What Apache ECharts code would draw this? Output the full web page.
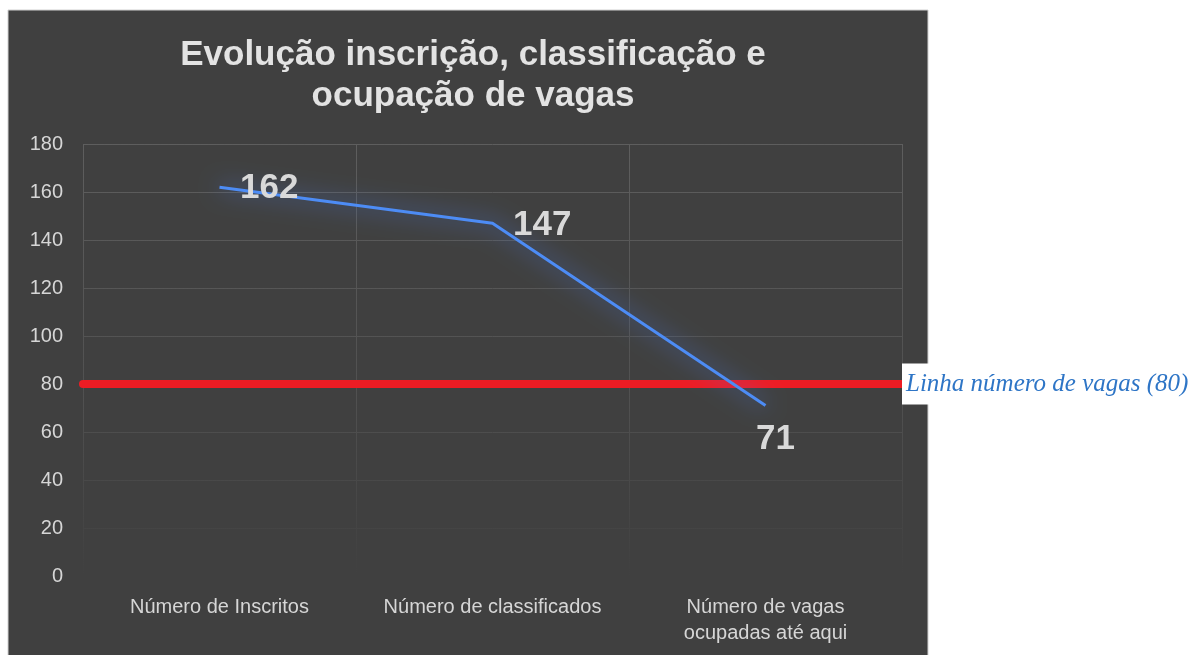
<!DOCTYPE html>
<html>
<head>
<meta charset="utf-8">
<script src="https://cdn.jsdelivr.net/npm/echarts@6/dist/echarts.min.js"></script>
<style>
  html, body { margin: 0; padding: 0; background: #fff; }
  #chart { width: 1194px; height: 655px; }
</style>
</head>
<body>
<div id="chart"></div>
<script>
// dados
const categorias = ["Número de Inscritos", "Número de classificados", "Número de vagas\nocupadas até aqui"];
const valores = [162, 147, 71];
const linhaVagas = 80;
const yTicks = [0, 20, 40, 60, 80, 100, 120, 140, 160, 180];

// posição dos rótulos por ponto
const labelPos = [
  { position: "right", distance: 20, offset: [0, 1] },
  { position: "right", distance: 20, offset: [0, 2] },
  { position: "bottom", distance: 16, offset: [10, 0] }
];

const chart = echarts.init(document.getElementById("chart"));

const gridFade = new echarts.graphic.LinearGradient(0, 144, 0, 576, [
  { offset: 0, color: "#5e5e5e" },
  { offset: 0.6, color: "#505050" },
  { offset: 1, color: "#404040" }
], true);

const option = {
  backgroundColor: "#ffffff",
  animation: false,
  graphic: [
    {
      type: "rect",
      z: -10,
      shape: { x: 8, y: 10, width: 920, height: 650 },
      style: { fill: "#404040", stroke: "#d0d0d0", lineWidth: 1 }
    }
  ],
  title: {
    text: "Evolução inscrição, classificação e\nocupação de vagas",
    left: 468,
    top: 30,
    textAlign: "center",
    textStyle: {
      color: "#e3e3e3",
      fontFamily: "Liberation Sans",
      fontWeight: "bold",
      fontSize: 35,
      lineHeight: 41
    }
  },
  grid: { left: 83, right: 292, top: 144, bottom: 79, containLabel: false },
  xAxis: {
    type: "category",
    data: categorias,
    boundaryGap: true,
    axisLine: { show: false },
    axisTick: { show: false },
    axisLabel: {
      interval: 0,
      color: "#d6d6d6",
      fontFamily: "Liberation Sans",
      fontSize: 20,
      lineHeight: 26,
      margin: 18
    },
    splitLine: { show: true, interval: 0, lineStyle: { color: gridFade, width: 1 } }
  },
  yAxis: {
    type: "value",
    min: 0,
    max: 180,
    interval: 20,
    axisLine: { show: false },
    axisTick: { show: false },
    axisLabel: {
      color: "#d6d6d6",
      fontFamily: "Liberation Sans",
      fontSize: 20,
      margin: 20,
      formatter: v => (yTicks.includes(v) ? String(v) : "")
    },
    splitLine: { show: true, lineStyle: { color: gridFade, width: 1 } }
  },
  series: [
    {
      type: "line",
      symbol: "circle",
      symbolSize: 1,
      showSymbol: true,
      smooth: false,
      z: 5,
      itemStyle: { color: "rgba(0,0,0,0)" },
      data: valores.map((v, i) => ({ value: v, label: labelPos[i] })),
      lineStyle: {
        color: "#4d8cf5",
        width: 3,
        shadowColor: "rgba(70,130,245,1)",
        shadowBlur: 22
      },
      label: {
        show: true,
        color: "#d9d9d9",
        fontFamily: "Liberation Sans",
        fontWeight: "bold",
        fontSize: 35
      },
      markLine: {
        silent: true,
        symbol: ["none", "none"],
        z: 4,
        data: [{ yAxis: linhaVagas }],
        lineStyle: { color: "#ed1c24", width: 8, type: "solid", cap: "round" },
        label: {
          show: true,
          position: "end",
          distance: 0,
          formatter: "Linha número de vagas (80)",
          color: "#2e75c6",
          fontFamily: "Liberation Serif",
          fontStyle: "italic",
          fontSize: 25,
          backgroundColor: "#ffffff",
          padding: [8, 6, 8, 4]
        }
      }
    }
  ]
};

chart.setOption(option);
</script>
</body>
</html>
